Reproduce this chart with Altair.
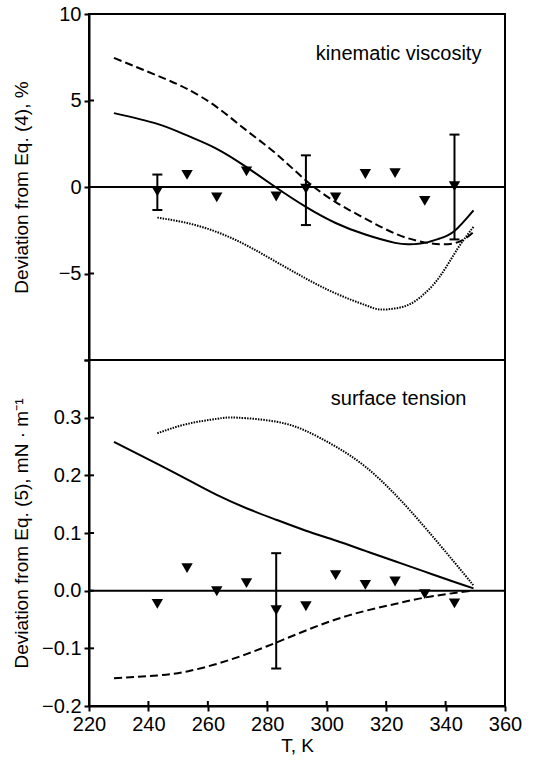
import altair as alt
import pandas as pd

# ---------------- data ----------------
T_pts = [243, 253, 263, 273, 283, 293, 303, 313, 323, 333, 343]
visc_pts = [-0.25, 0.7, -0.6, 0.9, -0.55, -0.1, -0.6, 0.75, 0.8, -0.8, 0.05]
st_pts = [-0.023, 0.039, -0.001, 0.013, -0.034, -0.027, 0.027, 0.01, 0.016, -0.006, -0.022]

visc_err_T = [243, 293, 343]
visc_err_lo = [-1.33, -2.2, -3.03]
visc_err_hi = [0.72, 1.83, 3.03]

st_err_T = [283]
st_err_lo = [-0.135]
st_err_hi = [0.065]

visc_solid_T = [228.4, 243, 253, 263, 273, 282.7, 293, 303, 313, 323, 328, 333, 338, 343, 349.4]
visc_solid_v = [4.27, 3.65, 2.98, 2.21, 1.15, 0.0, -1.15, -2.08, -2.75, -3.23, -3.31, -3.23, -2.98, -2.54, -1.35]

visc_dash_T = [228.4, 243, 253, 263, 273, 283, 293, 303, 313, 323, 333, 343, 349.4]
visc_dash_v = [7.46, 6.44, 5.67, 4.62, 3.27, 1.92, 0.38, -0.87, -1.83, -2.69, -3.2, -3.25, -2.6]

visc_dot_T = [243, 253, 263, 273, 283, 293, 303, 313, 318, 323, 328, 333, 338, 343, 346, 349.4]
visc_dot_v = [-1.77, -2.08, -2.6, -3.37, -4.33, -5.29, -6.15, -6.83, -7.08, -7.02, -6.77, -6.15, -5.19, -3.85, -3.08, -2.3]

st_solid_T = [228.4, 243, 253, 263, 273, 283, 293, 303, 313, 323, 333, 343, 349.4]
st_solid_v = [0.258, 0.22, 0.193, 0.166, 0.143, 0.123, 0.104, 0.087, 0.069, 0.051, 0.033, 0.015, 0.004]

st_dash_T = [228.4, 243, 253, 263, 273, 283, 293, 303, 313, 323, 333, 343, 349.4]
st_dash_v = [-0.152, -0.147, -0.14, -0.127, -0.11, -0.09, -0.069, -0.05, -0.035, -0.023, -0.012, -0.004, 0.0]

st_dot_T = [243, 253, 263, 270, 283, 293, 303, 313, 323, 333, 343, 349.4]
st_dot_v = [0.273, 0.289, 0.298, 0.30, 0.293, 0.277, 0.25, 0.215, 0.167, 0.11, 0.049, 0.009]

x_ticks = [220, 240, 260, 280, 300, 320, 340, 360]
visc_ticks = [-10, -5, 0, 5, 10]
st_ticks = [-0.2, -0.1, 0.0, 0.1, 0.2, 0.3, 0.4]

visc_label = ["kinematic viscosity"]
visc_label_T = [324.2]
visc_label_v = [7.7]
st_label = ["surface tension"]
st_label_T = [324.2]
st_label_v = [0.333]

# ---------------- layout ----------------
W, H = 416, 346
FONT = "Liberation Sans"
FS = 20
TFS = 19

xscale = alt.Scale(domain=[220, 360], nice=False, zero=False)


def panel(pts, err_T, err_lo, err_hi, solid, dash, dot, label, ydomain, yticks,
          ytitle, hide_val, xaxis, fmt):
    yscale = alt.Scale(domain=ydomain, nice=False, zero=False)
    yaxis = alt.Axis(values=yticks, title=ytitle, format=fmt,
                     labelExpr=f"abs(datum.value - ({hide_val})) < 1e-9 ? '' : datum.label",
                     titleX=-68, titleY=H / 2, titleBaseline="middle", titleAlign="center",
                     titleAngle=270)
    xenc = alt.X("T:Q", scale=xscale, axis=xaxis)

    def line(T, v, **kw):
        df = pd.DataFrame({"T": T, "v": v})
        return alt.Chart(df).mark_line(color="black", interpolate="natural", **kw).encode(
            x=xenc, y=alt.Y("v:Q", scale=yscale, axis=yaxis))

    base_line = line(*solid, strokeWidth=2)
    dash_line = line(*dash, strokeWidth=2, strokeDash=[8, 4])
    dot_line = line(*dot, strokeWidth=2, strokeDash=[1.5, 1.2])

    zero = alt.Chart(pd.DataFrame({"v": [0]})).mark_rule(color="black", strokeWidth=2).encode(
        y=alt.Y("v:Q", scale=yscale))

    df_pts = pd.DataFrame({"T": pts[0], "v": pts[1]})
    points = alt.Chart(df_pts).mark_point(shape="triangle-down", filled=True, color="black",
                                          size=130, opacity=1).encode(
        x=alt.X("T:Q", scale=xscale), y=alt.Y("v:Q", scale=yscale))

    df_err = pd.DataFrame({"T": err_T, "lo": err_lo, "hi": err_hi})
    ebar = alt.Chart(df_err).mark_rule(color="black", strokeWidth=2).encode(
        x=alt.X("T:Q", scale=xscale), y=alt.Y("lo:Q", scale=yscale), y2="hi:Q")
    cap_lo = alt.Chart(df_err).mark_tick(color="black", orient="horizontal", size=10,
                                         thickness=2, opacity=1).encode(
        x=alt.X("T:Q", scale=xscale), y=alt.Y("lo:Q", scale=yscale))
    cap_hi = alt.Chart(df_err).mark_tick(color="black", orient="horizontal", size=10,
                                         thickness=2, opacity=1).encode(
        x=alt.X("T:Q", scale=xscale), y=alt.Y("hi:Q", scale=yscale))

    df_txt = pd.DataFrame({"T": label[1], "v": label[2], "t": label[0]})
    txt = alt.Chart(df_txt).mark_text(font=FONT, fontSize=FS, color="black", align="center",
                                      baseline="middle").encode(
        x=alt.X("T:Q", scale=xscale), y=alt.Y("v:Q", scale=yscale), text="t:N")

    # inner halves of the crossing ticks on the left axis
    ytk = alt.Chart(pd.DataFrame({"v": yticks})).mark_rule(color="black", strokeWidth=2).encode(
        y=alt.Y("v:Q", scale=yscale), x=alt.value(0), x2=alt.value(5))

    layers = [zero, dash_line, dot_line, ebar, cap_lo, cap_hi, points, txt, ytk]
    if xaxis is not None:
        xtk = alt.Chart(pd.DataFrame({"T": x_ticks})).mark_rule(color="black", strokeWidth=2).encode(
            x=alt.X("T:Q", scale=xscale), y=alt.value(H - 5), y2=alt.value(H))
        layers.append(xtk)
    return alt.layer(base_line, *layers).properties(width=W, height=H)


top = panel((T_pts, visc_pts), visc_err_T, visc_err_lo, visc_err_hi,
            (visc_solid_T, visc_solid_v), (visc_dash_T, visc_dash_v), (visc_dot_T, visc_dot_v),
            (visc_label, visc_label_T, visc_label_v), [-10, 10], visc_ticks,
            "Deviation from Eq. (4), %", -10, None, "d")

bottom_xaxis = alt.Axis(values=x_ticks, title="T, K", format="d", titlePadding=2)
bottom = panel((T_pts, st_pts), st_err_T, st_err_lo, st_err_hi,
               (st_solid_T, st_solid_v), (st_dash_T, st_dash_v), (st_dot_T, st_dot_v),
               (st_label, st_label_T, st_label_v), [-0.2, 0.4], st_ticks,
               "Deviation from Eq. (5), mN · m⁻¹", 0.4, bottom_xaxis, ".1f")

chart = alt.vconcat(top, bottom, spacing=0, bounds="flush").properties(
    padding={"left": 11, "top": 3, "right": 4, "bottom": 4},
    background="white",
).configure_view(stroke="black", strokeWidth=2).configure_axis(
    grid=False, domainColor="black", domainWidth=2, tickColor="black", tickWidth=2,
    tickSize=5, labelColor="black", titleColor="black", labelFont=FONT, titleFont=FONT,
    labelFontSize=FS, titleFontSize=TFS, titleFontWeight="normal", labelPadding=3,
    labelFlush=False, labelOverlap=False,
)

chart.save("out.html", embed_options={"renderer": "svg", "actions": False})
